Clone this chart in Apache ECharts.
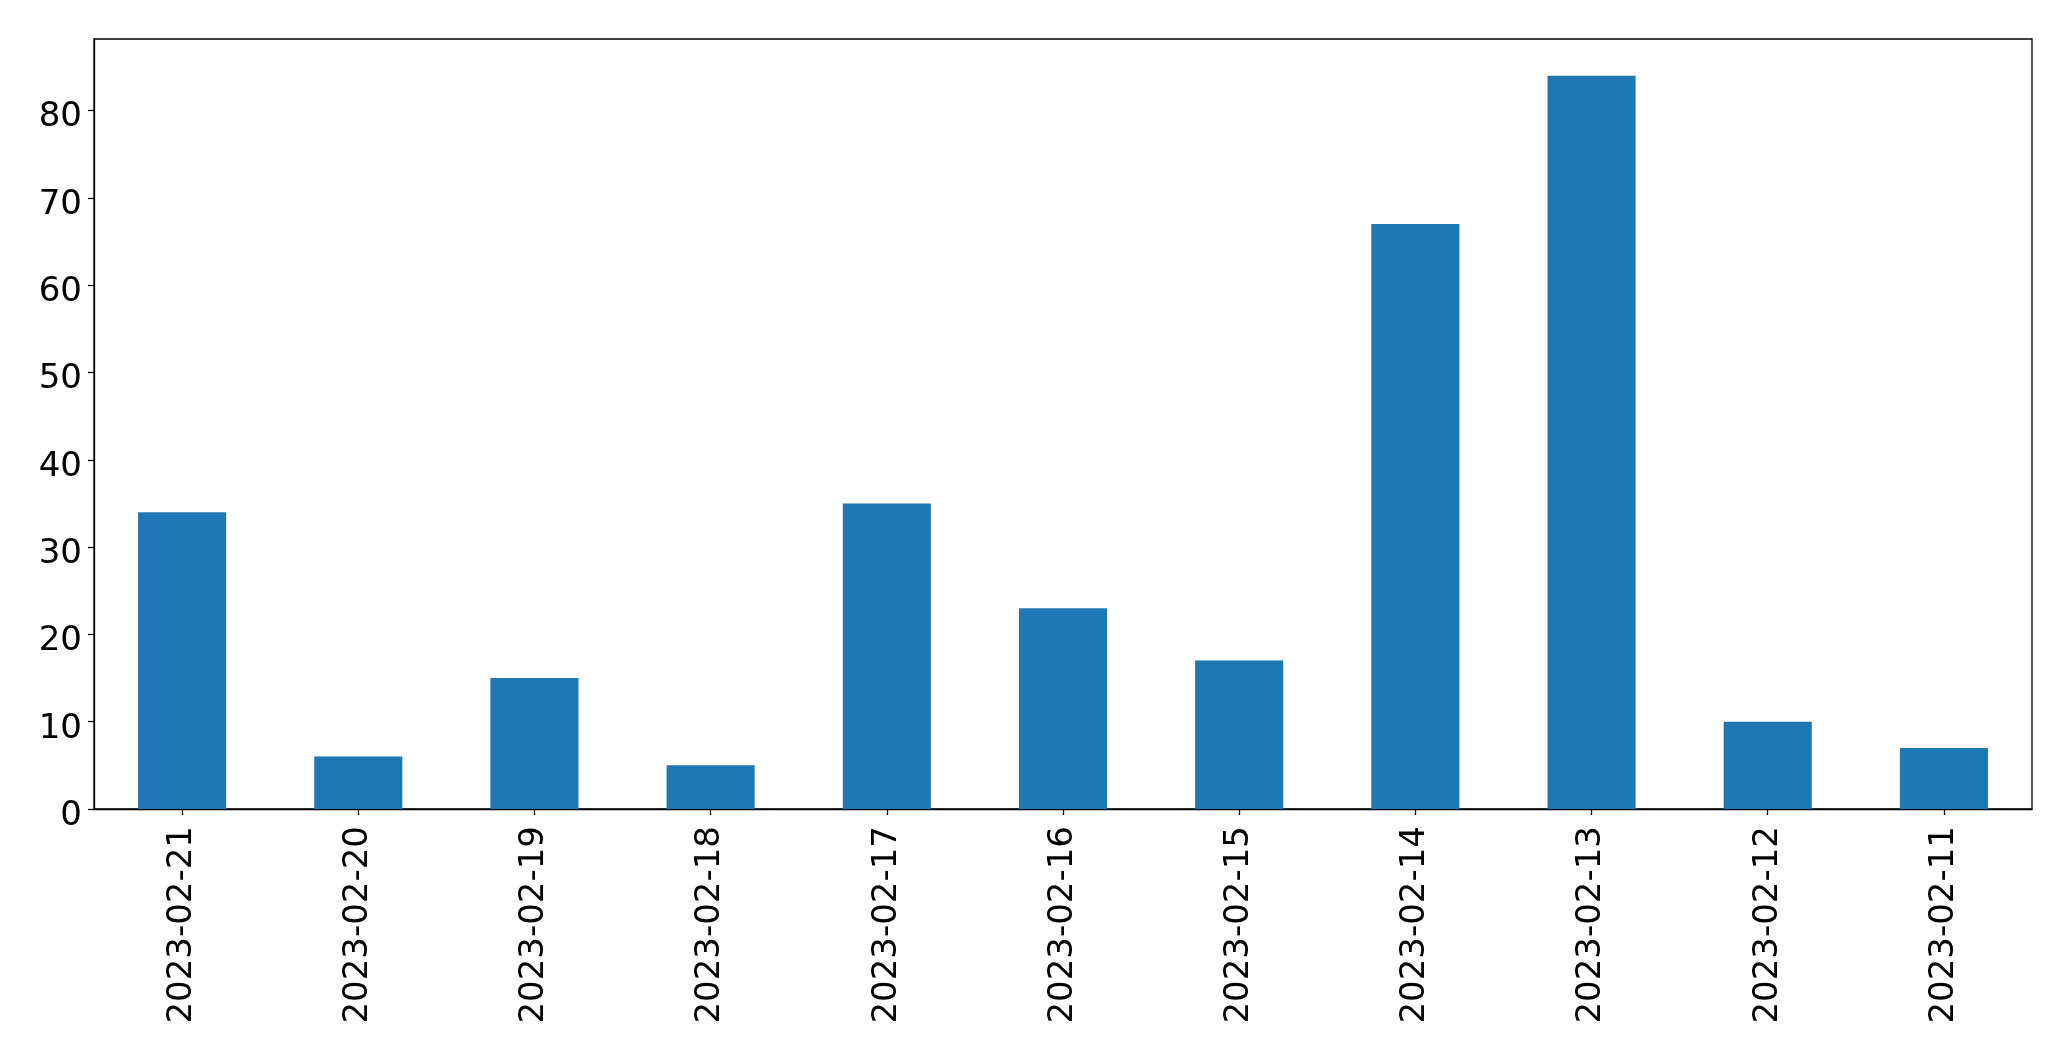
<!DOCTYPE html>
<html>
<head>
<meta charset="utf-8">
<script src="https://cdn.jsdelivr.net/npm/echarts@6/dist/echarts.min.js"></script>
<style>
html,body{margin:0;padding:0;background:#fff;}
#chart{width:2071px;height:1061px;}
</style>
</head>
<body>
<div id="chart"></div>
<script>
const categories = ['2023-02-21','2023-02-20','2023-02-19','2023-02-18','2023-02-17','2023-02-16','2023-02-15','2023-02-14','2023-02-13','2023-02-12','2023-02-11'];
const values = [34, 6, 15, 5, 35, 23, 17, 67, 84, 10, 7];
const yTicks = [0, 10, 20, 30, 40, 50, 60, 70, 80];

const chart = echarts.init(document.getElementById('chart'), null, {renderer: 'canvas'});
const font = 'DejaVu Sans';
chart.setOption({
  animation: false,
  backgroundColor: '#ffffff',
  grid: {
    left: 94, right: 39, top: 39, bottom: 252,
    show: true, borderColor: '#000', borderWidth: 1.3, backgroundColor: 'transparent'
  },
  xAxis: {
    type: 'category',
    data: categories,
    boundaryGap: true,
    axisLine: {show: true, lineStyle: {color: '#000', width: 1.3}},
    axisTick: {show: true, alignWithLabel: true, length: 6, lineStyle: {color: '#000', width: 1.3}},
    axisLabel: {rotate: 90, color: '#000', fontFamily: font, fontSize: 34, margin: 17, interval: 0},
    splitLine: {show: false}
  },
  yAxis: {
    type: 'value',
    min: 0, max: 88.2,
    interval: 10,
    axisLine: {show: true, lineStyle: {color: '#000', width: 1.3}},
    axisTick: {show: true, length: 6, lineStyle: {color: '#000', width: 1.3}, customValues: yTicks},
    axisLabel: {
      color: '#000', fontFamily: font, fontSize: 34, margin: 12, customValues: yTicks,
      formatter: function (v) { return '{a|' + v + '}'; },
      rich: {a: {color: '#000', fontFamily: font, fontSize: 34, padding: [14, 0, 0, 0]}}
    },
    splitLine: {show: false}
  },
  series: [{
    type: 'bar',
    data: values,
    barWidth: '50%',
    itemStyle: {color: '#1f77b4'}
  }]
});
</script>
</body>
</html>
